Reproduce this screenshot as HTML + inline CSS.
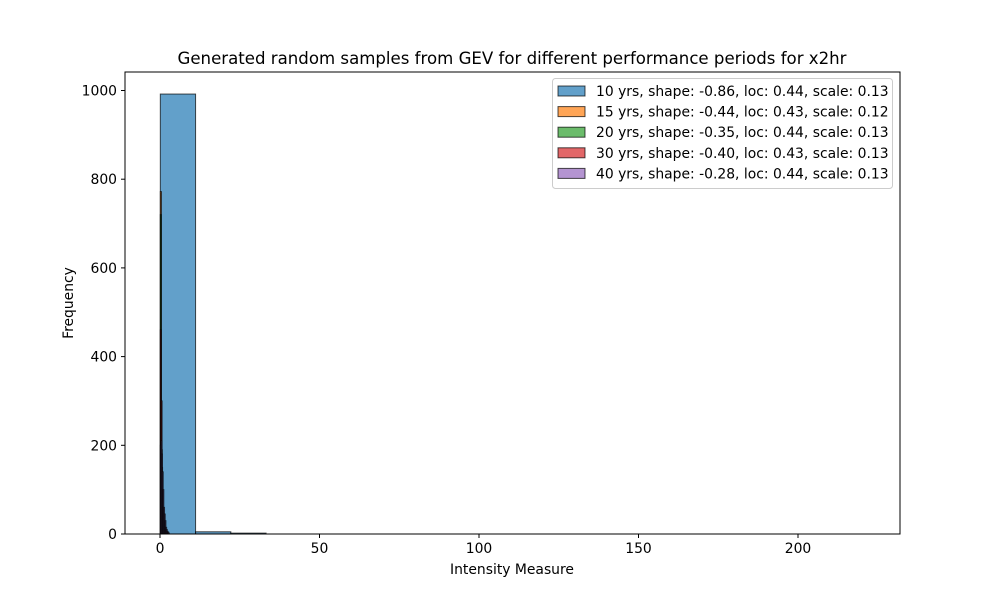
<!DOCTYPE html>
<html><head><meta charset="utf-8"><style>
body{margin:0;background:#fff;font-family:"Liberation Sans","DejaVu Sans",sans-serif;}
svg text{font-family:"DejaVu Sans","Liberation Sans",sans-serif;}
</style></head><body>
<svg id="chart" width="1000" height="600" xmlns="http://www.w3.org/2000/svg">
<rect width="1000" height="600" fill="#fff"/>
<text x="512" y="64" font-size="16.6" text-anchor="middle">Generated random samples from GEV for different performance periods for x2hr</text>
<g id="marks"></g>
<rect x="125" y="72" width="775" height="462" fill="none" stroke="#000" stroke-width="1"/>
<g id="axes"></g>
<text x="512" y="574" font-size="13.9" text-anchor="middle">Intensity Measure</text>
<text transform="translate(73,303) rotate(-90)" font-size="13.9" text-anchor="middle">Frequency</text>
<g id="legend"></g>
</svg>
<script>
const seriesLabels=["10 yrs, shape: -0.86, loc: 0.44, scale: 0.13","15 yrs, shape: -0.44, loc: 0.43, scale: 0.12","20 yrs, shape: -0.35, loc: 0.44, scale: 0.13","30 yrs, shape: -0.40, loc: 0.43, scale: 0.13","40 yrs, shape: -0.28, loc: 0.44, scale: 0.13"];
const binStarts=[0.1,0.1,0.1,0.1,0.1];
const binWidths=[11.05,0.35,0.3,0.28,0.22];
const counts10=[992,5,2,0,0,0,0,0,0,0,0,0,0,0,0,0,0,0,0,1];
const counts15=[772,150,45,15,8,4,3,2,1];
const counts20=[720,190,55,20,8,4,2,1];
const counts30=[460,300,140,55,25,10,6,3,1];
const counts40=[200,210,180,140,100,60,45,30,15,10,6,4];
const xTicks=[0,50,100,150,200];
const yTicks=[0,200,400,600,800,1000];
const colors=["#1f77b4","#ff7f0e","#2ca02c","#d62728","#9467bd"];
const allCounts=[counts10,counts15,counts20,counts30,counts40];
const X=v=>160+v*3.19, Y=v=>534-v*0.4435;
const NS="http://www.w3.org/2000/svg";
function mk(t,a,p){const e=document.createElementNS(NS,t);for(const k in a)e.setAttribute(k,a[k]);p.appendChild(e);return e;}
const marks=document.getElementById('marks');
allCounts.forEach((c,s)=>{c.forEach((v,i)=>{if(v<2)return;
 const x0=X(binStarts[s]+i*binWidths[s]),x1=X(binStarts[s]+(i+1)*binWidths[s]);
 const r=mk('rect',{x:x0,y:Y(v),width:Math.max(x1-x0,0.5),height:534-Y(v),fill:colors[s],'fill-opacity':0.7,stroke:'#000','stroke-opacity':0.7,'stroke-width':1},marks);
 
 });});
const axes=document.getElementById('axes');
xTicks.forEach(t=>{mk('line',{x1:X(t),x2:X(t),y1:534,y2:538,stroke:'#000'},axes);
 const tx=mk('text',{x:X(t),y:553,'font-size':13.9,'text-anchor':'middle'},axes);tx.textContent=t;
 
 });
yTicks.forEach(t=>{mk('line',{x1:121,x2:125,y1:Y(t),y2:Y(t),stroke:'#000'},axes);
 const tx=mk('text',{x:117,y:Y(t)+5,'font-size':13.9,'text-anchor':'end'},axes);tx.textContent=t;
 
 });
const lg=document.getElementById('legend');
mk('rect',{x:552.5,y:78.5,width:340,height:110,rx:3,fill:'#fff','fill-opacity':0.8,stroke:'#ccc'},lg);
seriesLabels.forEach((l,i)=>{const y=91+i*20.6;
 mk('rect',{x:558,y:y-5,width:27,height:10,fill:colors[i],'fill-opacity':0.7,stroke:'#000','stroke-opacity':0.7},lg);
 const tx=mk('text',{x:596,y:y+5,'font-size':13.9},lg);tx.textContent=l;
 
 });
</script>
</body></html>
